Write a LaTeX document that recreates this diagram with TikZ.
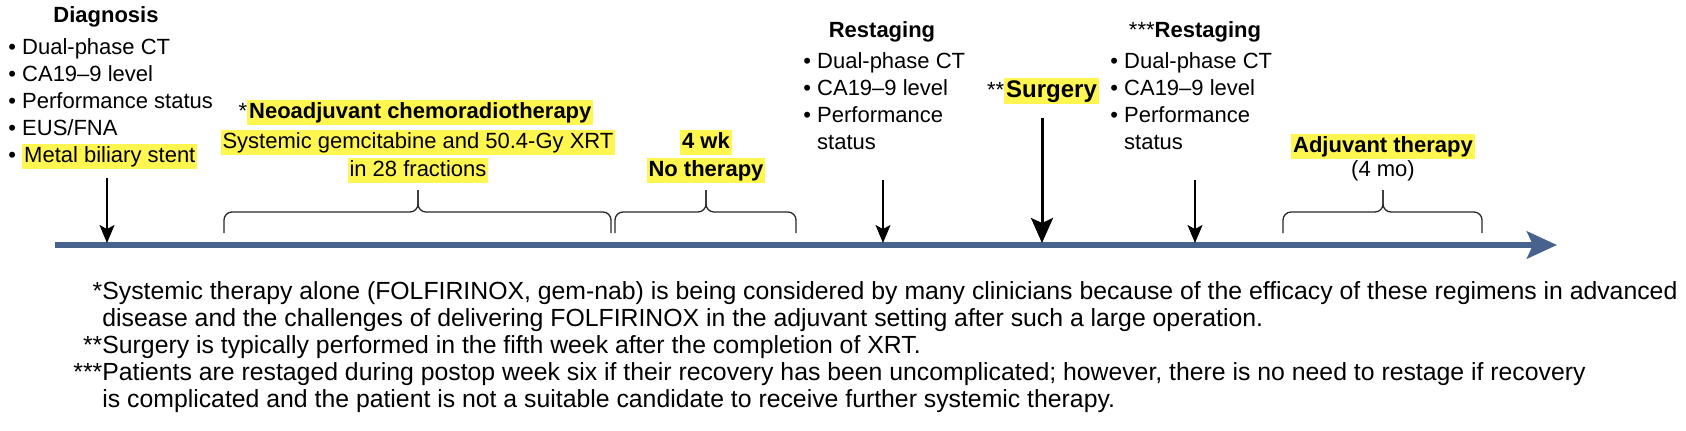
\documentclass[tikz,border=0pt]{standalone}
\usepackage{fontspec}
\setmainfont{Liberation Sans}
\usetikzlibrary{arrows.meta}
\definecolor{axisblue}{RGB}{72,98,142}
\definecolor{hlyellow}{RGB}{255,247,80}
\newcommand{\hlt}[1]{{\setlength{\fboxsep}{1pt}\colorbox{hlyellow}{\vphantom{Ay}#1}}}
\newcommand{\timebrace}[3]{%
  \draw[brace line] (#1,233) |- (#2,212) -- (#2,190);
  \draw[brace line] (#3,233) |- (#2,212) -- (#2,190);}

\begin{document}
\begin{tikzpicture}[x=0.5pt,y=-0.5pt,
    every node/.style={inner sep=0pt,font=\fontsize{11pt}{13.5pt}\selectfont},
    head/.style={font=\fontsize{11pt}{13.5pt}\selectfont\bfseries},
    items/.style={align=left,anchor=north west},
    note/.style={align=left,anchor=north west,font=\fontsize{12.4pt}{13.5pt}\selectfont},
    timeline/.style={draw=axisblue,line width=3pt,-{Stealth[length=15pt,width=13.5pt,inset=3pt]}},
    evt/.style={line width=0.65pt,-{Stealth[length=9pt,width=7.5pt,inset=2pt]}},
    evt main/.style={line width=1.5pt,-{Stealth[length=12.5pt,width=11pt,inset=2.5pt]}},
    brace line/.style={line width=0.65pt,rounded corners=4pt,draw=black!85}]
\useasboundingbox (0,0) rectangle (1686,430);

\node[head,anchor=base] (diag) at (106,22) {Diagnosis};
\node[items] (diag-list) at (8,38) {\textbullet\ Dual-phase CT\\
  \textbullet\ CA19--9 level\\
  \textbullet\ Performance status\\
  \textbullet\ EUS/FNA\\
  \textbullet\ \hlt{Metal biliary stent}};

\node[anchor=base] (neo) at (416,118) {*\hlt{\bfseries Neoadjuvant chemoradiotherapy}};
\node[anchor=base] (neo-1) at (418,148) {\hlt{Systemic gemcitabine and 50.4-Gy XRT}};
\node[anchor=base] (neo-2) at (418,176) {\hlt{in 28 fractions}};

\node[head,anchor=base] (rest-1) at (706,148) {\hlt{4 wk}};
\node[head,anchor=base] (rest-2) at (706,176) {\hlt{No therapy}};

\node[head,anchor=base] (restage) at (882,37) {Restaging};
\node[items] (restage-list) at (803,52) {\textbullet\ Dual-phase CT\\
  \textbullet\ CA19--9 level\\
  \textbullet\ Performance\\
  \phantom{\textbullet\ }status};

\node[anchor=base] (surg) at (1043,97) {**\hlt{\fontsize{12pt}{14pt}\selectfont\bfseries Surgery}};

\node[anchor=base] (postop) at (1195,37) {***\textbf{Restaging}};
\node[items] (postop-list) at (1110,52) {\textbullet\ Dual-phase CT\\
  \textbullet\ CA19--9 level\\
  \textbullet\ Performance\\
  \phantom{\textbullet\ }status};

\node[head,anchor=base] (adj) at (1383,152) {\hlt{Adjuvant therapy}};
\node[anchor=base] (adj-len) at (1383,176) {(4 mo)};

\coordinate (t0) at (55,245);
\coordinate (t1) at (1557,245);
\draw[timeline] (t0) -- (t1);

\coordinate (e1) at (107,178);  \coordinate (e1-tip) at (107,243);
\coordinate (e2) at (883,180);  \coordinate (e2-tip) at (883,243);
\coordinate (e3) at (1042,118); \coordinate (e3-tip) at (1042,243);
\coordinate (e4) at (1195,180); \coordinate (e4-tip) at (1195,243);
\draw[evt] (e1) -- (e1-tip);
\draw[evt] (e2) -- (e2-tip);
\draw[evt main] (e3) -- (e3-tip);
\draw[evt] (e4) -- (e4-tip);

\timebrace{224}{418}{611}
\timebrace{615}{706}{796}
\timebrace{1283}{1383}{1482}

\node[note] (notes) at (102,281) {\llap{*}Systemic therapy alone (FOLFIRINOX, gem-nab) is being considered by many clinicians because of the efficacy of these regimens in advanced\\
  disease and the challenges of delivering FOLFIRINOX in the adjuvant setting after such a large operation.\\
  \llap{**}Surgery is typically performed in the fifth week after the completion of XRT.\\
  \llap{***}Patients are restaged during postop week six if their recovery has been uncomplicated; however, there is no need to restage if recovery\\
  is complicated and the patient is not a suitable candidate to receive further systemic therapy.};
\end{tikzpicture}
\end{document}
